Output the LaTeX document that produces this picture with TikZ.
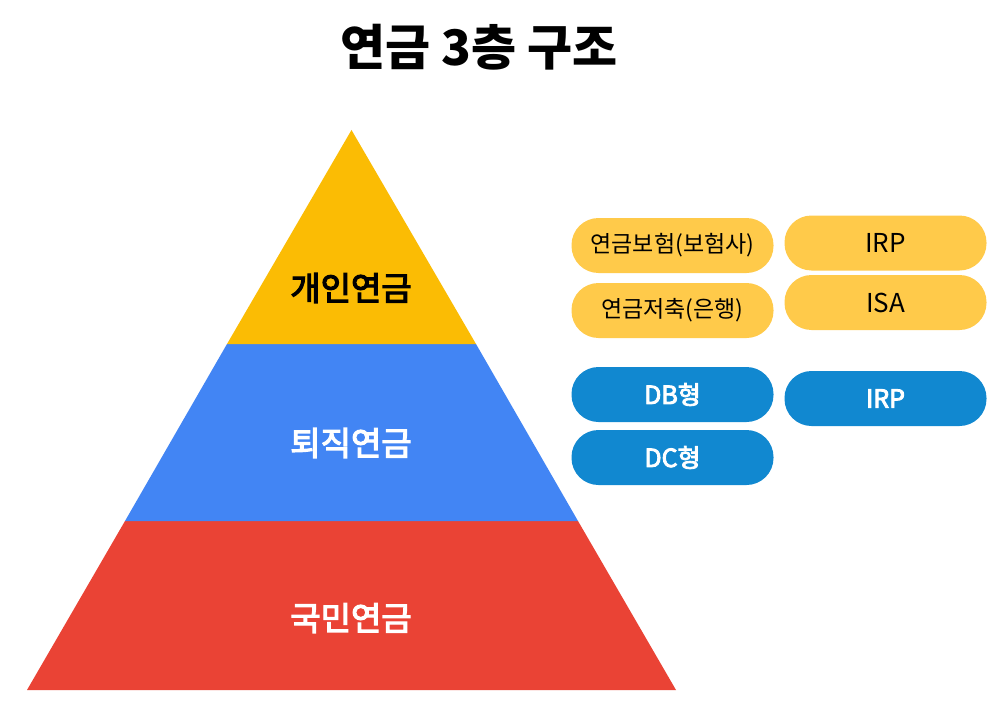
\documentclass[tikz,border=0pt]{standalone}
\usepackage{fontspec}
\setmainfont{Noto Sans CJK KR}
\newfontfamily\medfont{Noto Sans CJK KR}[FakeBold=3.5]
\usepackage{tikz}
\usetikzlibrary{positioning}
\definecolor{tiergold}{HTML}{FBBC04}
\definecolor{tierblue}{HTML}{4285F4}
\definecolor{tierred}{HTML}{EA4335}
\definecolor{pillgold}{HTML}{FFCA4A}
\definecolor{pillblue}{HTML}{1188D0}
\tikzset{
  pill/.style={rectangle, rounded corners=27pt, minimum width=202pt, minimum height=55pt, inner sep=0pt},
  goldpill/.style={pill, fill=pillgold, text=black},
  bluepill/.style={pill, fill=pillblue, text=white, font=\fontsize{25}{25}\selectfont\medfont},
  tierlabel/.style={font=\fontsize{33}{33}\selectfont\medfont}
}
\begin{document}
\begin{tikzpicture}[x=1pt, y=-1pt]
			%%%%% START %%%%%
			\useasboundingbox[fill=white] (0, 0) rectangle (998, 706);
			
			\node[font=\fontsize{49}{49}\selectfont\bfseries] (title) at (479, 47) {연금 3층 구조};
			
			\fill[tierred] (27, 690) -- (676, 690) -- (578, 521) -- (125, 521) -- cycle;
			\fill[tierblue] (125, 521) -- (578, 521) -- (476, 344) -- (227, 344) -- cycle;
			\fill[tiergold] (227, 344) -- (476, 344) -- (351.5, 130) -- cycle;
			
			\node[tierlabel, text=black] (private) at (351, 288) {개인연금};
			\node[tierlabel, text=white] (retire) at (351, 443) {퇴직연금};
			\node[tierlabel, text=white] (national) at (351, 618) {국민연금};
			
			\node[goldpill, font=\fontsize{23}{23}\selectfont] (insure) at (672.5, 245.5) {연금보험(보험사)};
			\node[goldpill, font=\fontsize{23}{23}\selectfont] (saving) at (672.5, 310.5) {연금저축(은행)};
			\node[goldpill, font=\fontsize{26}{26}\selectfont] (irpgold) at (885.5, 243) {IRP};
			\node[goldpill, font=\fontsize{26}{26}\selectfont] (isa) at (885.5, 302.5) {ISA};
			
			\node[bluepill] (dbtype) at (672.5, 394.5) {DB형};
			\node[bluepill] (dctype) at (672.5, 457.5) {DC형};
			\node[bluepill] (irpblue) at (885.5, 398.5) {IRP};
			%%%%% END %%%%%
\end{tikzpicture}
\end{document}
